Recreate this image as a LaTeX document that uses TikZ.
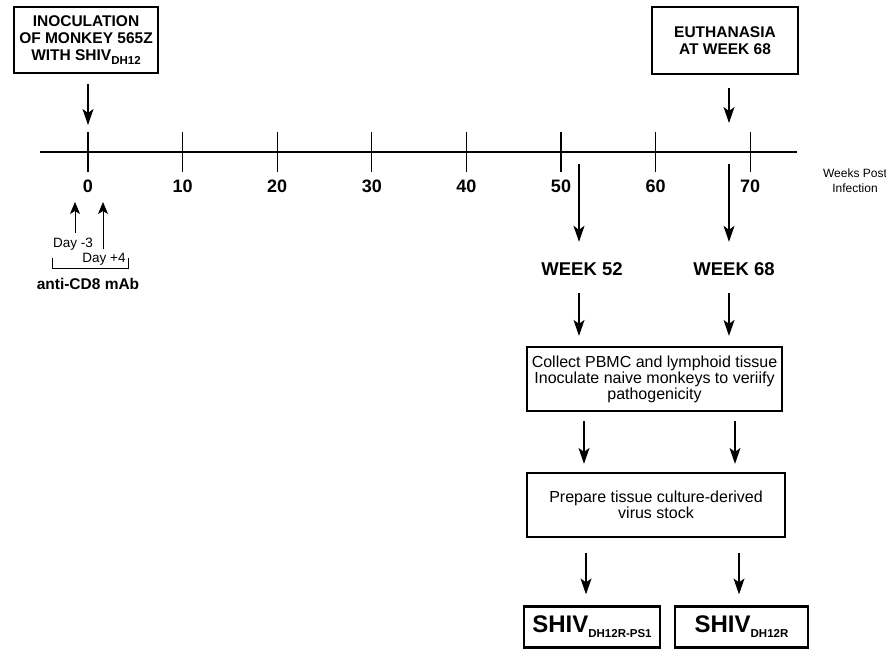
\documentclass[tikz,border=0pt]{standalone}
\usepackage{fontspec}
\setmainfont{Liberation Sans}
\usetikzlibrary{arrows.meta}
\tikzset{>={Stealth[length=16pt,width=11pt,inset=4pt]}}
\newcommand\subtxt[3]{\raisebox{-#1}{\fontsize{#2}{#2}\selectfont #3}}
\tikzset{
  box/.style={draw,line width=2.2pt,align=center,inner sep=0pt},
  headtxt/.style={font=\fontsize{15.5}{17}\selectfont\bfseries},
  weektxt/.style={font=\fontsize{18.5}{20}\selectfont\bfseries,inner sep=0pt},
  numtxt/.style={font=\fontsize{18}{20}\selectfont\bfseries,inner sep=0pt},
  steptxt/.style={font=\fontsize{16}{16}\selectfont},
  smalltxt/.style={font=\fontsize{13.5}{15}\selectfont,inner sep=0pt,align=center},
  shivtxt/.style={font=\fontsize{24}{26}\selectfont\bfseries},
  small arrow/.style={->,>={Stealth[length=12pt,width=10pt,inset=3pt]}},
}
\begin{document}
\begin{tikzpicture}[x=1pt,y=-1pt,line width=1.3pt]
  \useasboundingbox (0,0) rectangle (886,649);
  % time axis
  \coordinate (ax0) at (40,152);
  \coordinate (ax1) at (797,152);
  \draw (ax0) -- (ax1);
  \foreach \w in {0,10,...,70}{
    \coordinate (t\w) at (88+9.46*\w,152);
    \coordinate (tt\w) at (88+9.46*\w,132);
    \draw (tt\w) -- ++(0,40);
    \node[numtxt] (n\w) at (88+9.46*\w,186) {\w};
  }
  \node[font=\fontsize{12}{15}\selectfont,inner sep=0pt,align=center] (wpi) at (855,181) {Weeks Post\\Infection};
  \coordinate (w52) at (579,152);
  \coordinate (w68) at (729,152);

  \node[box,headtxt,minimum width=144pt,minimum height=66pt] (inoc) at (86,40)
    {INOCULATION\\OF MONKEY 565Z\\WITH SHIV\subtxt{4pt}{11.5}{DH12}};
  \node[box,headtxt,minimum width=146pt,minimum height=67pt] (euth) at (725,40.5)
    {EUTHANASIA\\AT WEEK 68};
  \draw[->,shorten <=10pt,shorten >=7pt] (inoc.south -| tt0) -- (tt0);
  \draw[->,shorten <=13pt,shorten >=29pt] (euth.south -| w68) -- (w68);

  % anti-CD8 treatment
  \node[smalltxt] (dayA) at (73,244) {Day -3};
  \node[smalltxt] (dayB) at (104,259) {Day +4};
  \coordinate (cdA) at (75,202);
  \coordinate (cdB) at (103,202);
  \draw[small arrow,line width=0.8pt,shorten <=4pt] (dayA.north -| cdA) -- (cdA);
  \draw[small arrow,line width=0.8pt,shorten <=3pt] (dayB.north -| cdB) -- (cdB);
  \coordinate (brL) at (52,258);
  \coordinate (brR) at (128,258);
  \draw[line width=0.8pt] (brL) -- ++(0,10) -| (brR);
  \node[font=\fontsize{15.5}{17}\selectfont\bfseries,inner sep=0pt] (cd8) at (88,284) {anti-CD8 mAb};

  % sampling
  \node[weektxt] (wk52) at (582,269) {WEEK 52};
  \node[weektxt] (wk68) at (734,269) {WEEK 68};
  \draw[->,shorten <=12pt,shorten >=20pt] (w52) -- (w52 |- wk52.north);
  \draw[->,shorten <=12pt,shorten >=20pt] (w68) -- (w68 |- wk68.north);

  \node[box,steptxt,minimum width=255pt,minimum height=64pt] (collect) at (654.5,379)
    {Collect PBMC and lymphoid tissue\\Inoculate naive monkeys to veriify\\pathogenicity};
  \draw[->,shorten <=17pt,shorten >=10pt] (wk52.south -| w52) -- (collect.north -| w52);
  \draw[->,shorten <=17pt,shorten >=10pt] (wk68.south -| w68) -- (collect.north -| w68);

  \node[box,steptxt,minimum width=258pt,minimum height=64pt] (prep) at (656,505)
    {Prepare tissue culture-derived\\virus stock};
  \coordinate (cA) at (584,0);
  \coordinate (cB) at (735,0);
  \draw[->,shorten <=9pt,shorten >=8pt] (collect.south -| cA) -- (prep.north -| cA);
  \draw[->,shorten <=9pt,shorten >=8pt] (collect.south -| cB) -- (prep.north -| cB);

  \node[box,shivtxt,minimum width=136pt,minimum height=41pt] (shivA) at (592,627)
    {SHIV\subtxt{5pt}{11.5}{DH12R-PS1}};
  \node[box,shivtxt,minimum width=133pt,minimum height=41pt] (shivB) at (741.5,627)
    {SHIV\subtxt{5pt}{11.5}{DH12R}};
  \coordinate (dA) at (586,0);
  \coordinate (dB) at (739,0);
  \draw[->,shorten <=15pt,shorten >=11pt] (prep.south -| dA) -- (shivA.north -| dA);
  \draw[->,shorten <=15pt,shorten >=11pt] (prep.south -| dB) -- (shivB.north -| dB);
\end{tikzpicture}
\end{document}
